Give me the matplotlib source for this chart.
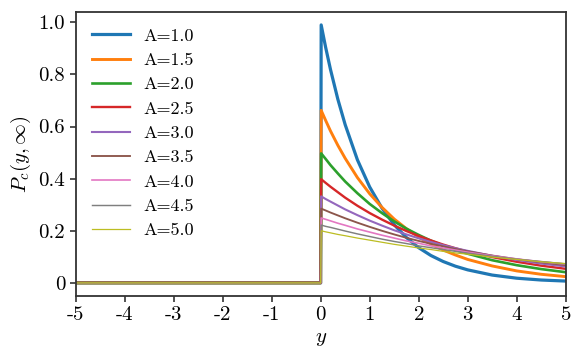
import matplotlib
matplotlib.use("Agg")
from matplotlib import pyplot as plt

plt.rcParams['font.family'] = ['cmr10', 'DejaVu Serif']
plt.rcParams['mathtext.fontset'] = 'cm'
plt.rcParams['axes.unicode_minus'] = False
plt.rcParams['axes.formatter.use_mathtext'] = True

# Values
A_values = [1.0, 1.5, 2.0, 2.5, 3.0, 3.5, 4.0, 4.5, 5.0]
y_neg = [-5.0, 0.0]
y_pos = [0.01, 0.1, 0.2, 0.35, 0.5, 0.75, 1.0, 1.25, 1.5, 1.75, 2.0,
         2.25, 2.5, 2.75, 3.0, 3.5, 4.0, 4.5, 5.0]
p_curves = [
    [0.990, 0.905, 0.819, 0.705, 0.607, 0.472, 0.368, 0.287, 0.223, 0.174, 0.135,
     0.105, 0.082, 0.064, 0.050, 0.030, 0.018, 0.011, 0.007],
    [0.662, 0.624, 0.583, 0.528, 0.478, 0.404, 0.342, 0.290, 0.245, 0.208, 0.176,
     0.149, 0.126, 0.107, 0.090, 0.065, 0.046, 0.033, 0.024],
    [0.497, 0.476, 0.452, 0.420, 0.389, 0.344, 0.303, 0.268, 0.236, 0.208, 0.184,
     0.162, 0.143, 0.126, 0.112, 0.087, 0.068, 0.053, 0.041],
    [0.398, 0.384, 0.369, 0.348, 0.327, 0.296, 0.268, 0.243, 0.220, 0.199, 0.180,
     0.163, 0.147, 0.133, 0.120, 0.099, 0.081, 0.066, 0.054],
    [0.332, 0.322, 0.312, 0.297, 0.282, 0.260, 0.239, 0.220, 0.202, 0.186, 0.171,
     0.157, 0.145, 0.133, 0.123, 0.104, 0.088, 0.074, 0.063],
    [0.285, 0.278, 0.270, 0.259, 0.248, 0.231, 0.215, 0.200, 0.186, 0.173, 0.161,
     0.150, 0.140, 0.130, 0.121, 0.105, 0.091, 0.079, 0.068],
    [0.249, 0.244, 0.238, 0.229, 0.221, 0.207, 0.195, 0.183, 0.172, 0.161, 0.152,
     0.142, 0.134, 0.126, 0.118, 0.104, 0.092, 0.081, 0.072],
    [0.222, 0.217, 0.213, 0.206, 0.199, 0.188, 0.178, 0.168, 0.159, 0.151, 0.142,
     0.135, 0.128, 0.121, 0.114, 0.102, 0.091, 0.082, 0.073],
    [0.200, 0.196, 0.192, 0.186, 0.181, 0.172, 0.164, 0.156, 0.148, 0.141, 0.134,
     0.128, 0.121, 0.115, 0.110, 0.099, 0.090, 0.081, 0.074],
]
x_ticks = [-5, -4, -3, -2, -1, 0, 1, 2, 3, 4, 5]
x_tick_labels = ['-5', '-4', '-3', '-2', '-1', '0', '1', '2', '3', '4', '5']
y_ticks = [0, 0.2, 0.4, 0.6, 0.8, 1.0]
y_tick_labels = ['0', '0.2', '0.4', '0.6', '0.8', '1.0']

colors = ['#1f77b4', '#ff7f0e', '#2ca02c', '#d62728', '#9467bd',
          '#8c564b', '#e377c2', '#7f7f7f', '#bcbd22']
widths = [2.3, 2.1, 1.9, 1.7, 1.5, 1.35, 1.2, 1.05, 0.9]

fig, ax = plt.subplots(figsize=(5.82, 3.6), dpi=100)
fig.subplots_adjust(left=0.13, right=0.972, top=0.967, bottom=0.178)

for A, vals, c, lw in zip(A_values, p_curves, colors, widths):
    xs = y_neg + y_pos
    ys = [0.0, 0.0] + vals
    ax.plot(xs, ys, color=c, lw=lw, label=f"A={A:.1f}")

ax.set_xlim(-5, 5)
ax.set_ylim(-0.05, 1.04)
ax.set_xticks(x_ticks)
ax.set_xticklabels(x_tick_labels)
ax.set_yticks(y_ticks)
ax.set_yticklabels(y_tick_labels)
ax.tick_params(labelsize=15, direction='out', length=4, width=1.2, color='#333333')
for s in ax.spines.values():
    s.set_color('#333333')
    s.set_linewidth(1.3)

ax.set_xlabel(r'$y$', fontsize=15)
ax.set_ylabel(r'$P_c(y,\infty)$', fontsize=15)
ax.legend(loc='upper left', frameon=False, fontsize=13, handlelength=2.1,
          handletextpad=0.75, labelspacing=0.48)

plt.savefig('out.png', dpi=100)
plt.close()
